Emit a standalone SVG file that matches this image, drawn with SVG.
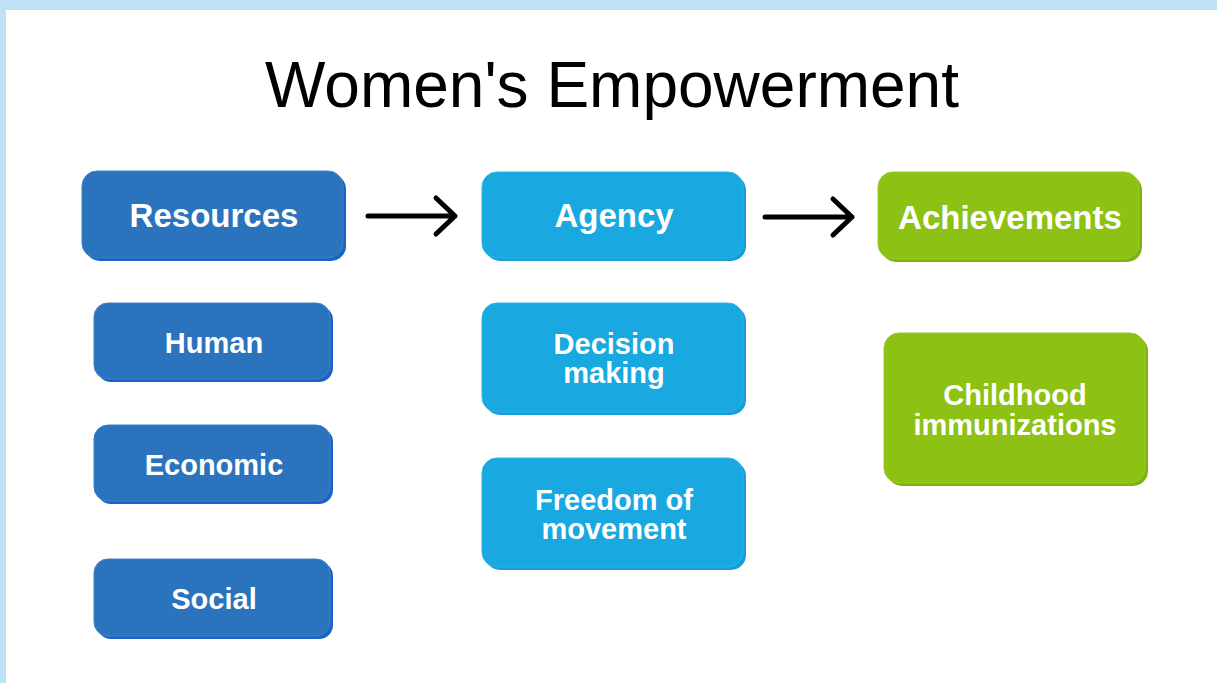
<svg xmlns="http://www.w3.org/2000/svg" width="1217" height="683" viewBox="0 0 1217 683">
  <defs>
    <style>
      .title { font-family: "Liberation Sans", Arial, sans-serif; font-size: 64px; fill: #000; }
      .head { font-family: "Liberation Sans", Arial, sans-serif; font-weight: bold; font-size: 33px; fill: #fff; text-anchor: middle; }
      .sub { font-family: "Liberation Sans", Arial, sans-serif; font-weight: bold; font-size: 29px; fill: #fff; text-anchor: middle; }
      .res { fill: #2b74bd; stroke: #3a82c6; stroke-width: 1; }
      .res-sh { fill: #1a62c6; }
      .agn { fill: #19a8e0; stroke: #2fb2e4; stroke-width: 1; }
      .agn-sh { fill: #139fdb; }
      .ach { fill: #8dc214; stroke: #98c92a; stroke-width: 1; }
      .ach-sh { fill: #7fb211; }
      .arrow { fill: none; stroke: #000; stroke-width: 5; stroke-linecap: round; stroke-linejoin: round; }
    </style>
  </defs>

  <!-- page background with light blue frame -->
  <rect x="0" y="0" width="1217" height="683" fill="#bde2f4"/>
  <rect x="6" y="10" width="1211" height="673" fill="#ffffff"/>

  <text class="title" x="612" y="107" text-anchor="middle">Women's Empowerment</text>

  <!-- Resources column -->
  <g id="resources">
    <rect class="res-sh" x="85" y="174" width="261" height="87" rx="15"/>
    <rect class="res" x="82" y="171" width="261" height="87" rx="15"/>
    <text class="head" x="214" y="227">Resources</text>
  </g>
  <g id="human">
    <rect class="res-sh" x="97" y="306" width="236" height="76" rx="14"/>
    <rect class="res" x="94" y="303" width="236" height="76" rx="14"/>
    <text class="sub" x="214" y="353">Human</text>
  </g>
  <g id="economic">
    <rect class="res-sh" x="97" y="428" width="236" height="76" rx="14"/>
    <rect class="res" x="94" y="425" width="236" height="76" rx="14"/>
    <text class="sub" x="214" y="475">Economic</text>
  </g>
  <g id="social">
    <rect class="res-sh" x="97" y="562" width="236" height="77" rx="14"/>
    <rect class="res" x="94" y="559" width="236" height="77" rx="14"/>
    <text class="sub" x="214" y="609">Social</text>
  </g>

  <!-- Agency column -->
  <g id="agency">
    <rect class="agn-sh" x="485" y="175" width="261" height="86" rx="15"/>
    <rect class="agn" x="482" y="172" width="261" height="86" rx="15"/>
    <text class="head" x="614" y="227">Agency</text>
  </g>
  <g id="decision-making">
    <rect class="agn-sh" x="485" y="306" width="261" height="109" rx="15"/>
    <rect class="agn" x="482" y="303" width="261" height="109" rx="15"/>
    <text class="sub" x="614" y="354">Decision</text>
    <text class="sub" x="614" y="383">making</text>
  </g>
  <g id="freedom-of-movement">
    <rect class="agn-sh" x="485" y="461" width="261" height="109" rx="15"/>
    <rect class="agn" x="482" y="458" width="261" height="109" rx="15"/>
    <text class="sub" x="614" y="510">Freedom of</text>
    <text class="sub" x="614" y="539">movement</text>
  </g>

  <!-- Achievements column -->
  <g id="achievements">
    <rect class="ach-sh" x="881" y="175" width="261" height="87" rx="15"/>
    <rect class="ach" x="878" y="172" width="261" height="87" rx="15"/>
    <text class="head" x="1010" y="229">Achievements</text>
  </g>
  <g id="childhood-immunizations">
    <rect class="ach-sh" x="887" y="336" width="261" height="150" rx="15"/>
    <rect class="ach" x="884" y="333" width="261" height="150" rx="15"/>
    <text class="sub" x="1015" y="405">Childhood</text>
    <text class="sub" x="1015" y="435">immunizations</text>
  </g>

  <!-- connectors -->
  <g id="connectors">
    <path class="arrow" d="M368 216 H455 M436 198 L455 216 L436 234"/>
    <path class="arrow" d="M765 217 H852 M833 199 L852 217 L833 235"/>
  </g>
</svg>
